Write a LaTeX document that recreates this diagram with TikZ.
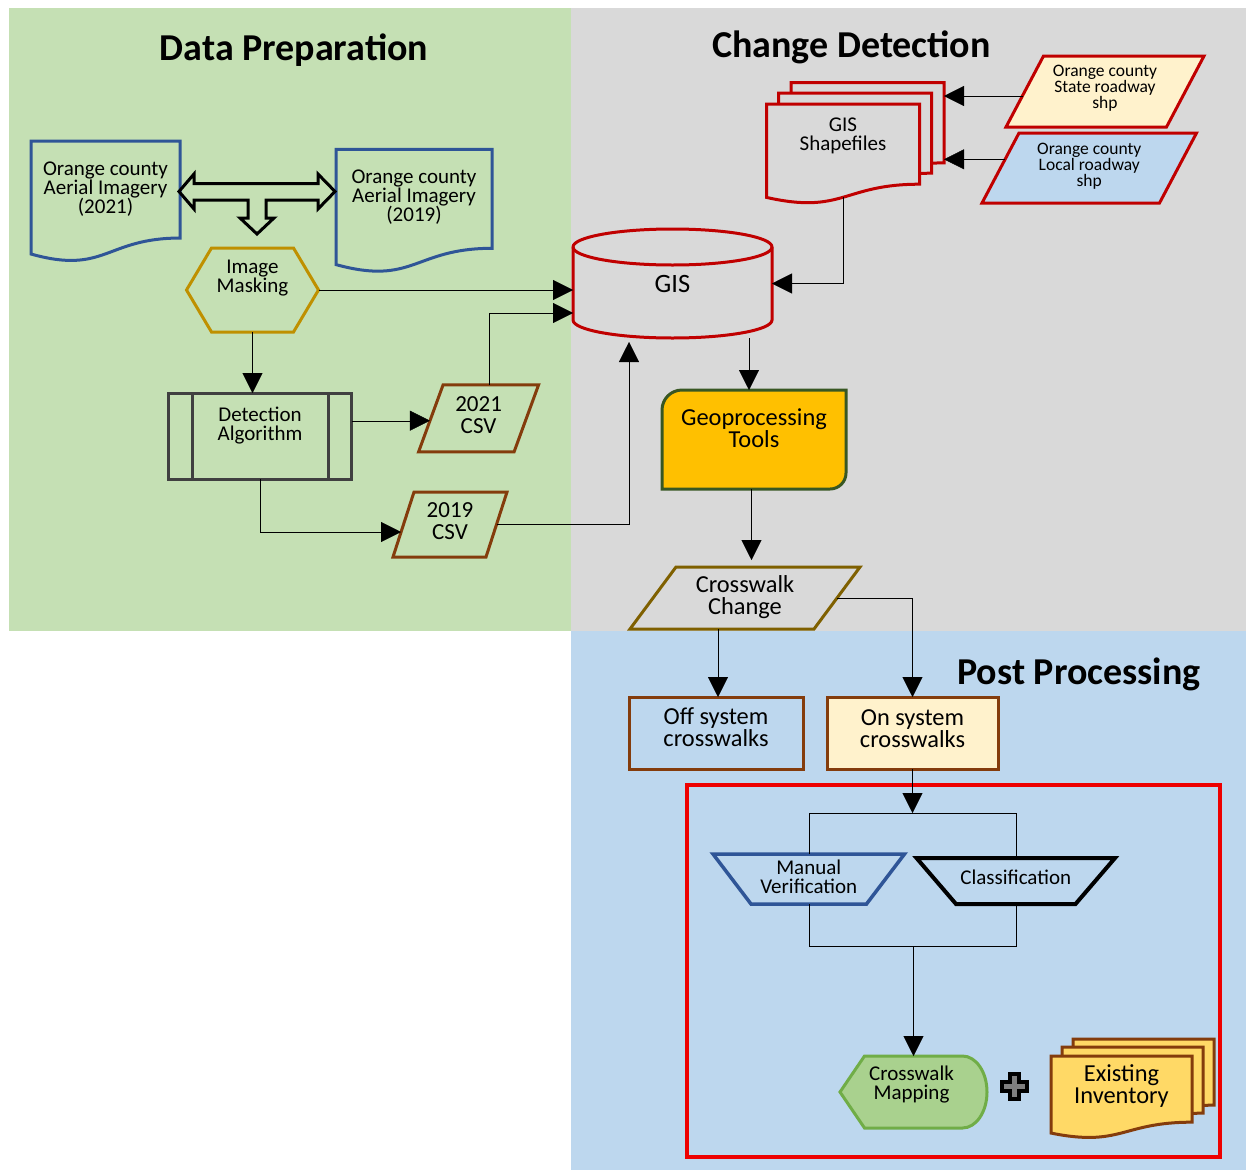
\documentclass[tikz,border=0pt]{standalone}
\usepackage{fontspec}
\setmainfont{Carlito}
\usetikzlibrary{arrows.meta,calc,positioning}

\definecolor{prepgreen}{HTML}{C5E0B4}
\definecolor{detectgray}{HTML}{D9D9D9}
\definecolor{postblue}{HTML}{BDD7EE}
\definecolor{docblue}{HTML}{2F5597}
\definecolor{maskgold}{HTML}{BF9000}
\definecolor{gisred}{HTML}{C00000}
\definecolor{csvbrown}{HTML}{843C0C}
\definecolor{algogray}{HTML}{404040}
\definecolor{geoorange}{HTML}{FFC000}
\definecolor{geogreen}{HTML}{385723}
\definecolor{changeolive}{HTML}{7F6000}
\definecolor{paleyellow}{HTML}{FFF2CC}
\definecolor{mapgreen}{HTML}{A9D18E}
\definecolor{mapborder}{HTML}{70AD47}
\definecolor{invyellow}{HTML}{FFD966}
\definecolor{plusgray}{HTML}{7F7F7F}
\definecolor{framered}{HTML}{EE0000}

\pgfdeclarelayer{regions}
\pgfdeclarelayer{outlines}
\pgfsetlayers{regions,outlines,main}

% document outline with wavy bottom, shifted by a canvas vector
\newcommand{\wavedoc}[3]{%
  \draw [#2] ($(#1.north west)+(#3)$) -- ($(#1.north east)+(#3)$)
    -- ($(#1.north east)!0.802!(#1.south east)+(#3)$)
    .. controls ($(#1.north)!0.802!(#1.south)+(#3)$) and ($(#1.north)!1.107!(#1.south)+(#3)$)
    .. ($(#1.north west)!0.934!(#1.south west)+(#3)$) -- cycle;}
% parallelogram leaning right
\newcommand{\slantdraw}[3]{%
  \draw [#2] ([xshift=#3]#1.north west) -- (#1.north east) -- ([xshift=-#3]#1.south east) -- (#1.south west) -- cycle;}
% hexagon
\newcommand{\hexdraw}[3]{%
  \draw [#2] (#1.west) -- ([xshift=#3]#1.north west) -- ([xshift=-#3]#1.north east) -- (#1.east)
    -- ([xshift=-#3]#1.south east) -- ([xshift=#3]#1.south west) -- cycle;}
% trapezoid, wide side on top
\newcommand{\trapdraw}[3]{%
  \draw [#2] (#1.north west) -- (#1.north east) -- ([xshift=-#3]#1.south east) -- ([xshift=#3]#1.south west) -- cycle;}

\begin{document}
\begin{tikzpicture}[x=1pt, y=-1pt, line width=1.5pt,
    >={Triangle[length=20pt,width=20pt]},
    shapebox/.style={inner sep=0pt, outer sep=0pt},
    heading/.style={font={\fontsize{38}{40}\selectfont\bfseries}, anchor=base, inner sep=0pt},
    txt/.style={align=center, font={\fontsize{21}{19}\selectfont}},
    smalltxt/.style={align=center, font={\fontsize{17.5}{16}\selectfont}},
    bigtxt/.style={align=center, font={\fontsize{24.4}{22}\selectfont}},
    csvtxt/.style={align=center, font={\fontsize{23}{22}\selectfont}},
    gistxt/.style={font={\fontsize{26.5}{28}\selectfont}},
    docline/.style={draw=docblue, line width=3pt},
    shpdoc/.style={draw=gisred, fill=detectgray, line width=3pt},
    invdoc/.style={draw=csvbrown, fill=invyellow, line width=3pt},
    maskline/.style={draw=maskgold, line width=3pt},
    csvline/.style={draw=csvbrown, line width=3pt},
    gisline/.style={draw=gisred, line width=3pt},
    stateline/.style={draw=gisred, fill=paleyellow, line width=3pt},
    localline/.style={draw=gisred, fill=postblue, line width=3pt},
    geoline/.style={draw=geogreen, fill=geoorange, line width=3pt},
    changeline/.style={draw=changeolive, line width=3pt},
    manualline/.style={draw=docblue, line width=3.5pt},
    classline/.style={draw=black, line width=4pt},
    mapline/.style={draw=mapborder, fill=mapgreen, line width=3pt},
    blockarrow/.style={draw=black, line width=3pt},
    plusline/.style={draw=black, fill=plusgray, line width=4pt},
    framebox/.style={draw=framered, line width=3.5pt}
  ]
  \useasboundingbox (0,0) rectangle (1246,1170);

  % Regions
  \begin{pgfonlayer}{regions}
    \fill [prepgreen] (9,8) rectangle (571,631);
    \fill [detectgray] (571,8) rectangle (1246,631);
    \fill [postblue] (571,631) rectangle (1246,1170);
  \end{pgfonlayer}

  \node (preptitle) [heading] at (294,60) {Data Preparation};
  \node (detecttitle) [heading] at (851.5,57) {Change Detection};
  \node (posttitle) [heading] at (1079,684) {Post Processing};

  % Nodes
  \node (img21) [shapebox, minimum width=149, minimum height=121,
    label={[txt, yshift=12.5pt]center:Orange county\\Aerial Imagery\\(2021)}] at (105.5,201.5) {};
  \node (img19) [shapebox, minimum width=156, minimum height=123.5,
    label={[txt, yshift=14pt]center:Orange county\\Aerial Imagery\\(2019)}] at (414,211) {};
  \node (mask) [shapebox, minimum width=132, minimum height=84,
    label={[txt, yshift=12pt]center:Image\\Masking}] at (252.5,290) {};
  \node (algo) [shapebox, draw=algogray, line width=3pt, minimum width=183, minimum height=86,
    label={[txt, yshift=10.5pt]center:Detection\\Algorithm}] at (260,436) {};
  \node (csv21) [shapebox, minimum width=120, minimum height=67,
    label={[csvtxt, yshift=3pt]center:2021\\CSV}] at (478.6,418.3) {};
  \node (csv19) [shapebox, minimum width=114, minimum height=65,
    label={[csvtxt, yshift=3pt]center:2019\\CSV}] at (450,524.5) {};
  \node (gis) [shapebox, minimum width=199, minimum height=109,
    label={[gistxt]center:GIS}] at (672.5,283.5) {};
  \node (shp) [shapebox, minimum width=153, minimum height=100,
    label={[txt, yshift=18.5pt]center:GIS\\Shapefiles}] at (843,154) {};
  \node (state) [shapebox, minimum width=198, minimum height=71,
    label={[smalltxt, yshift=3.5pt]center:Orange county\\State roadway\\shp}] at (1105,91.5) {};
  \node (local) [shapebox, minimum width=214.5, minimum height=70,
    label={[smalltxt, yshift=2pt]center:Orange county\\Local roadway\\shp}] at (1089.25,168) {};
  \node (geo) [shapebox, minimum width=184, minimum height=99,
    label={[bigtxt, yshift=11.5pt]center:Geoprocessing\\Tools}] at (754,439.5) {};
  \node (cc) [shapebox, minimum width=230, minimum height=62,
    label={[bigtxt, yshift=1pt]center:Crosswalk\\Change}] at (745,598) {};
  \node (off) [shapebox, draw=csvbrown, line width=3pt, minimum width=174, minimum height=72,
    label={[bigtxt, yshift=5.5pt]center:Off system\\crosswalks}] at (716,733) {};
  \node (on) [shapebox, draw=csvbrown, fill=paleyellow, line width=3pt, minimum width=171, minimum height=72,
    label={[bigtxt, yshift=4pt]center:On system\\crosswalks}] at (912.5,733) {};
  \node (manual) [shapebox, minimum width=191.5, minimum height=50,
    label={[txt, yshift=2pt]center:Manual\\Verification}] at (808.75,879) {};
  \node (class) [shapebox, minimum width=198.5, minimum height=46,
    label={[txt, yshift=4pt]center:Classification}] at (1015.75,881) {};
  \node (cwmap) [shapebox, minimum width=147, minimum height=72,
    label={[txt, yshift=8pt, xshift=-2pt]center:Crosswalk\\Mapping}] at (913.5,1092) {};
  \node (inv) [shapebox, minimum width=141, minimum height=82.5,
    label={[bigtxt, yshift=11pt]center:Existing\\Inventory}] at (1121.5,1097.25) {};
  \coordinate (plus) at (1014,1086);

  % Outlines
  \begin{pgfonlayer}{outlines}
    \wavedoc{img21}{docline}{0pt,0pt}
    \wavedoc{img19}{docline}{0pt,0pt}
    \hexdraw{mask}{maskline}{25pt}
    \slantdraw{csv21}{csvline}{24.5pt}
    \slantdraw{csv19}{csvline}{21pt}
    \draw [gisline] ([yshift=-18pt]gis.north west) -- ([yshift=18pt]gis.south west)
      arc[start angle=180, end angle=360, x radius=99.5pt, y radius=18pt]
      -- ([yshift=-18pt]gis.north east)
      arc[start angle=0, end angle=180, x radius=99.5pt, y radius=18pt] -- cycle;
    \draw [gisline] ([yshift=-18pt]gis.north west)
      arc[start angle=180, end angle=360, x radius=99.5pt, y radius=18pt];
    \wavedoc{shp}{shpdoc}{24.5pt,21.3pt}
    \wavedoc{shp}{shpdoc}{12.2pt,11pt}
    \wavedoc{shp}{shpdoc}{0pt,0pt}
    \slantdraw{state}{stateline}{37.5pt}
    \slantdraw{local}{localline}{37pt}
    \draw [geoline] (geo.south west) -- ([yshift=-20pt]geo.north west)
      arc[start angle=180, end angle=90, radius=20pt] -- (geo.north east)
      -- ([yshift=16pt]geo.south east) arc[start angle=0, end angle=-90, radius=16pt] -- cycle;
    \slantdraw{cc}{changeline}{46pt}
    \trapdraw{manual}{manualline}{38pt}
    \trapdraw{class}{classline}{39.5pt}
    \draw [mapline] (cwmap.west) -- ([xshift=24.5pt]cwmap.north west) -- ([xshift=-24.5pt]cwmap.north east)
      arc[start angle=90, end angle=-90, x radius=24.5pt, y radius=36pt]
      -- ([xshift=24.5pt]cwmap.south west) -- cycle;
    \wavedoc{inv}{invdoc}{22pt,17pt}
    \wavedoc{inv}{invdoc}{11pt,9pt}
    \wavedoc{inv}{invdoc}{0pt,0pt}
  \end{pgfonlayer}
  \draw [algogray, line width=3pt] ([xshift=23.5pt]algo.north west) -- ([xshift=23.5pt]algo.south west);
  \draw [algogray, line width=3pt] ([xshift=-23.5pt]algo.north east) -- ([xshift=-23.5pt]algo.south east);
  \draw [blockarrow] (179,191.5) -- (194,174) -- (194,183.5) -- (318,183.5) -- (318,174) -- (335,191.5)
    -- (318,209) -- (318,200) -- (266,200) -- (266,218) -- (274,218) -- (257,234) -- (240,218)
    -- (248,218) -- (248,200) -- (194,200) -- (194,209) -- cycle;
  \draw [plusline] (plus) ++(-4.5,-12.5) -- ++(9,0) -- ++(0,8) -- ++(8,0) -- ++(0,9) -- ++(-8,0)
    -- ++(0,8) -- ++(-9,0) -- ++(0,-8) -- ++(-8,0) -- ++(0,-9) -- ++(8,0) -- cycle;
  \draw [framebox] (687,785) rectangle (1220,1157);

  % Connector ends on slanted edges
  \coordinate (csv21in) at ([xshift=11.3pt,yshift=-2.4pt]csv21.west);
  \coordinate (csv19in) at ([xshift=8pt,yshift=-7.5pt]csv19.west);
  \coordinate (stateleft) at ([xshift=16.5pt,yshift=-4.5pt]state.west);
  \coordinate (localleft) at ([xshift=23pt,yshift=8.7pt]local.west);
  \coordinate (shpedge) at ([xshift=24.5pt]shp.east);
  \coordinate (fork) at (on.south |- 0,813);
  \coordinate (join) at (cwmap.north |- 0,946);

  % Arrows
  \draw [->] (mask.east) -- (mask.east -| gis.west);
  \draw [->] (mask.south) -- (mask.south |- algo.north);
  \draw [->] (algo.east |- csv21in) -- (csv21in);
  \draw [->] (algo.south) |- (csv19in);
  \draw [->] ([xshift=10.4pt]csv21.north) |- ([yshift=-29.5pt]gis.west);
  \draw [->] ([xshift=-10.5pt]csv19.east) -| ([xshift=-43.5pt,yshift=-4pt]gis.south);
  \draw [->] (stateleft) -- (stateleft -| shpedge);
  \draw [->] (localleft) -- (localleft -| shpedge);
  \draw [->] ($(shp.north)!0.933!(shp.south)$) |- (gis.east);
  \draw [->] ([xshift=76.5pt]gis.south) -- ([xshift=76.5pt]gis.south |- geo.north);
  \draw [->] ([xshift=-2.5pt]geo.south) -- ([xshift=-2.5pt,yshift=7pt]geo.south |- cc.north);
  \draw [->] ([xshift=-27pt]cc.south) -- ([xshift=-27pt]cc.south |- off.north);
  \draw [->] ([xshift=-23pt]cc.east) -| (on.north);
  \draw [->] (on.south) -- (fork);
  \draw (manual.north) |- (fork) -| (class.north);
  \draw (manual.south) |- (join) -| (class.south);
  \draw [->] (join) -- (cwmap.north);
\end{tikzpicture}
\end{document}
